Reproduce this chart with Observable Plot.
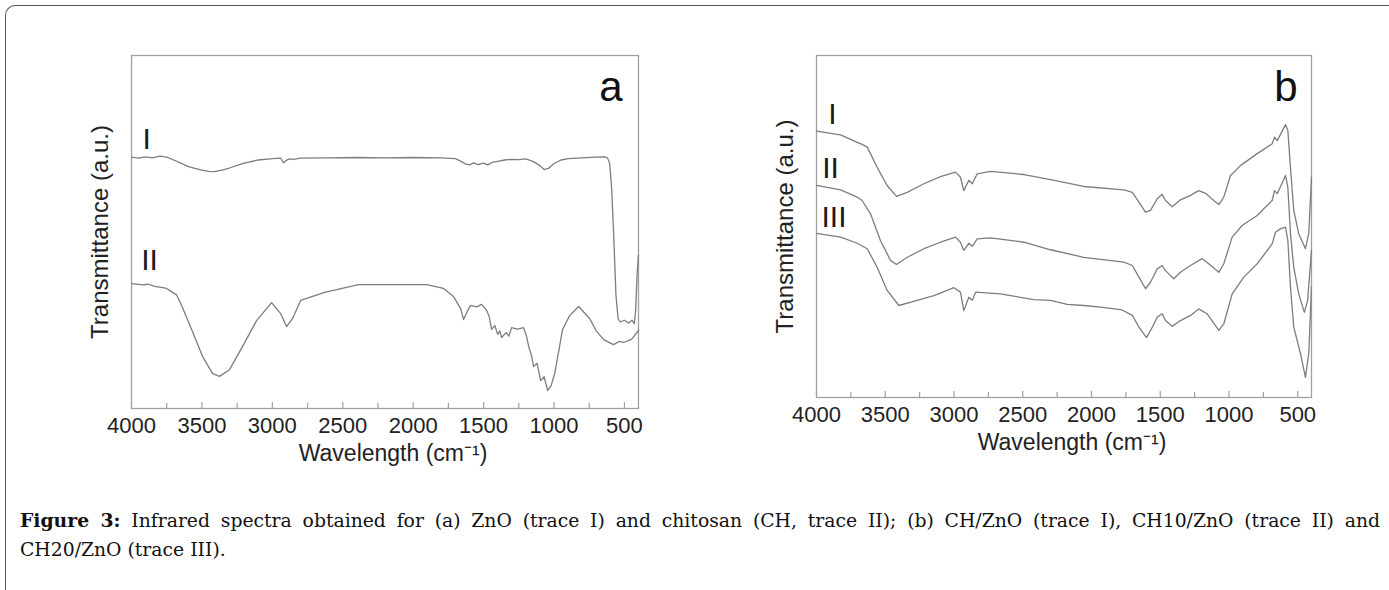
<!DOCTYPE html>
<html><head><meta charset="utf-8">
<script src="https://cdn.jsdelivr.net/npm/d3@7"></script>
<script src="https://cdn.jsdelivr.net/npm/@observablehq/plot@0.6"></script>
<style>
body{margin:0;background:#fff;}
#wrap{position:relative;width:1389px;height:590px;overflow:hidden;background:#fff;}
#border{position:absolute;left:5px;top:5px;width:1400px;height:600px;border-left:1.3px solid #555;border-top:1.3px solid #555;border-top-left-radius:10px;}
#pa{position:absolute;left:40px;top:20px;}
#pb{position:absolute;left:720px;top:20px;}
#cap{position:absolute;left:20px;top:506px;width:1360px;font-family:"DejaVu Serif","Liberation Serif",serif;font-size:18.8px;line-height:29px;color:#111;}
.l1{text-align:justify;text-align-last:justify;}
</style></head><body>
<div id="wrap"><div id="border"></div><div id="pa"></div><div id="pb"></div>
<div id="cap"><div class="l1"><b>Figure 3:</b> Infrared spectra obtained for (a) ZnO (trace I) and chitosan (CH, trace II); (b) CH/ZnO (trace I), CH10/ZnO (trace II) and</div><div>CH20/ZnO (trace III).</div></div></div>
<script>
// ---- axes / labels ----
const xDomain = [4000, 400];
const yDomain = [0, 100];
const majorTicks = [4000, 3500, 3000, 2500, 2000, 1500, 1000, 500];
const minorTicks = [3750, 3250, 2750, 2250, 1750, 1250, 750];
const xTitle = "Wavelength (cm\u207B\u00B9)";
const yTitle = "Transmittance (a.u.)";

// ---- panel a: ZnO (trace I) ----
const aI_wn = [4000,3950,3900,3850,3800,3750,3700,3650,3600,3550,3500,3450,3410,3350,3300,3200,3100,3000,2940,2920,2900,2880,2850,2800,2600,2400,2200,2000,1800,1700,1660,1630,1600,1570,1540,1500,1470,1440,1400,1350,1300,1250,1200,1150,1100,1070,1040,1000,950,900,800,700,640,620,605,590,575,560,545,530,500,470,445,430,420,410,400];
const aI_t  = [71.2,70.9,71.3,71.0,71.5,71.2,70.4,69.5,68.6,68.0,67.5,67.2,67.1,67.6,68.2,69.5,70.4,70.8,70.9,69.6,70.3,70.7,70.6,70.9,71.0,71.1,71.0,71.1,71.0,70.8,70.0,69.3,69.0,69.6,69.1,69.5,69.0,69.7,70.0,70.4,70.6,70.5,70.7,70.0,68.8,67.7,68.0,69.4,70.4,70.8,71.0,71.2,71.3,71.0,69.5,62.0,48.0,32.0,25.5,24.5,25.0,24.2,25.0,24.0,28.0,38.0,43.5];
// ---- panel a: chitosan (trace II) ----
const aII_wn = [4000,3920,3880,3836,3790,3750,3716,3680,3644,3573,3495,3424,3375,3304,3211,3112,3005,2941,2899,2856,2799,2629,2388,2146,1905,1784,1713,1663,1642,1610,1592,1550,1514,1478,1460,1443,1420,1400,1385,1372,1340,1320,1301,1260,1216,1195,1180,1160,1145,1120,1095,1070,1045,1020,995,939,889,825,747,700,647,600,576,540,505,450,400];
const aII_t  = [35.4,35.0,35.2,34.6,34.3,34.0,33.1,32.2,29.2,22.4,14.7,9.9,9.1,11.0,17.6,24.9,30.0,26.9,23.2,25.5,30.6,32.9,35.1,35.1,35.1,34.0,31.7,28.3,25.2,28.0,29.2,28.8,29.5,27.8,26.0,22.4,23.5,21.0,22.0,20.1,21.5,20.5,22.9,22.5,22.9,20.5,17.6,15.0,11.9,12.8,7.9,9.0,5.1,6.5,9.9,22.4,26.3,28.9,25.5,22.0,19.5,18.5,18.1,19.0,18.7,19.6,22.1];

// ---- panel b: CH/ZnO (I), CH10/ZnO (II), CH20/ZnO (III) ----
const bI_wn = [4000,3825,3704,3668,3631,3559,3486,3418,3340,3219,3098,2989,2953,2929,2892,2867,2831,2735,2491,2298,2056,1764,1703,1655,1607,1571,1522,1486,1462,1413,1353,1280,1220,1171,1111,1074,1038,989,917,795,686,669,649,589,572,553,529,493,444,420,400];
const bI_t  = [77.9,76.8,74.6,74.0,73.2,67.3,62.0,58.8,60.0,62.5,64.6,65.9,64.4,60.5,63.5,62.5,65.4,66.1,65.2,63.7,61.7,60.7,60.0,57.1,54.2,54.7,58.1,59.4,57.6,55.8,57.8,59.1,60.5,59.7,57.6,56.4,58.6,64.9,67.8,71.3,74.2,76.1,75.1,79.8,78.1,67.3,54.7,47.9,43.5,47.9,64.4];
const bII_wn = [4000,3825,3704,3668,3607,3535,3462,3418,3340,3219,3098,2989,2953,2929,2892,2867,2831,2735,2491,2298,2056,1764,1703,1655,1607,1571,1522,1486,1462,1402,1353,1280,1196,1147,1074,1038,977,905,795,686,669,649,589,572,553,529,493,452,428,400];
const bII_t  = [62.0,60.7,58.6,57.6,53.7,45.9,40.1,38.9,41.0,43.5,45.4,46.9,45.4,43.0,45.1,44.2,46.4,46.7,45.4,43.2,41.0,39.6,38.6,35.2,31.8,33.7,37.6,38.6,37.1,34.7,36.6,38.6,40.6,39.1,36.6,39.1,46.9,50.3,53.2,57.6,60.5,59.6,64.9,61.5,47.9,38.1,30.3,24.9,28.4,43.0];
const bIII_wn = [4000,3825,3704,3631,3559,3486,3401,3300,3146,3001,2953,2929,2892,2867,2843,2662,2420,2298,2177,2056,1935,1777,1703,1655,1600,1557,1522,1486,1462,1413,1353,1280,1220,1160,1074,1038,977,892,795,686,662,626,589,572,553,529,480,444,420,400];
const bIII_t  = [48.0,46.9,45.1,43.5,38.1,31.3,26.9,28.0,29.8,32.1,30.8,25.4,29.3,28.4,30.8,30.3,28.6,28.4,27.2,26.9,26.4,25.6,24.0,20.6,17.5,20.6,23.5,24.5,22.5,20.8,22.5,24.0,25.9,24.5,19.6,21.5,30.3,35.2,39.1,44.9,48.3,49.3,49.8,45.9,32.3,20.6,12.8,5.9,12.8,32.3];

// ---- trace labels (text, wavenumber, transmittance) ----
const aLabelText = ["I", "II"];
const aLabelX = [3893, 3872];
const aLabelY = [76.2, 41.9];
const bLabelText = ["I", "II", "III"];
const bLabelX = [3884, 3898, 3873];
const bLabelY = [82.7, 67.1, 52.6];

function tidy(list) {
  return list.flatMap(([name, wn, t]) => wn.map((w, i) => ({wn: w, t: t[i], trace: name})));
}
function lbls(text, xs, ys) { return text.map((s, i) => ({text: s, x: xs[i], y: ys[i]})); }

const FONT = "'Liberation Sans', Arial, Helvetica, sans-serif";
const LINE = "#7d7d7d", FRAME = "#a0a0a0";

function panel({width, height, marginLeft, marginRight, marginTop, marginBottom, data, labels, letter, letterDx}) {
  const fh = height - marginTop - marginBottom;
  return Plot.plot({
    width, height, marginLeft, marginRight, marginTop, marginBottom,
    style: {fontFamily: FONT, color: "#222", background: "transparent", overflow: "visible"},
    x: {domain: xDomain},
    y: {domain: yDomain, axis: null},
    marks: [
      Plot.frame({stroke: FRAME, strokeWidth: 1.3}),
      Plot.tickX(majorTicks, {x: d => d, insetTop: fh - 6, stroke: FRAME, strokeWidth: 1.2}),
      Plot.tickX(minorTicks, {x: d => d, insetTop: fh - 5, stroke: FRAME, strokeWidth: 1.2}),
      Plot.axisX({ticks: majorTicks, tickSize: 0, tickPadding: 9, fontSize: 22, label: null, tickFormat: d => String(d), fill: "#222"}),
      Plot.text([xTitle], {frameAnchor: "bottom", lineAnchor: "middle", dy: 45, dx: 8, fontSize: 23, fill: "#222"}),
      Plot.text([yTitle], {frameAnchor: "left", textAnchor: "middle", lineAnchor: "middle", rotate: -90, dx: -31, fontSize: 24, fill: "#222"}),
      Plot.line(data, {x: "wn", y: "t", z: "trace", stroke: LINE, strokeWidth: 1.3, curve: "linear"}),
      Plot.text(labels, {x: "x", y: "y", text: "text", fontSize: 30, fill: "#1a1a1a"}),
      Plot.text([letter], {frameAnchor: "top-right", textAnchor: "end", lineAnchor: "bottom", dx: letterDx, dy: 45, fontSize: 42, fill: "#111"})
    ]
  });
}

document.getElementById("pa").appendChild(panel({
  width: 620, height: 460, marginLeft: 91, marginRight: 22, marginTop: 35, marginBottom: 72,
  data: tidy([["I", aI_wn, aI_t], ["II", aII_wn, aII_t]]),
  labels: lbls(aLabelText, aLabelX, aLabelY), letter: "a", letterDx: -16
}));
document.getElementById("pb").appendChild(panel({
  width: 620, height: 460, marginLeft: 96, marginRight: 29, marginTop: 35, marginBottom: 83,
  data: tidy([["I", bI_wn, bI_t], ["II", bII_wn, bII_t], ["III", bIII_wn, bIII_t]]),
  labels: lbls(bLabelText, bLabelX, bLabelY), letter: "b", letterDx: -14
}));
</script>
</body></html>
